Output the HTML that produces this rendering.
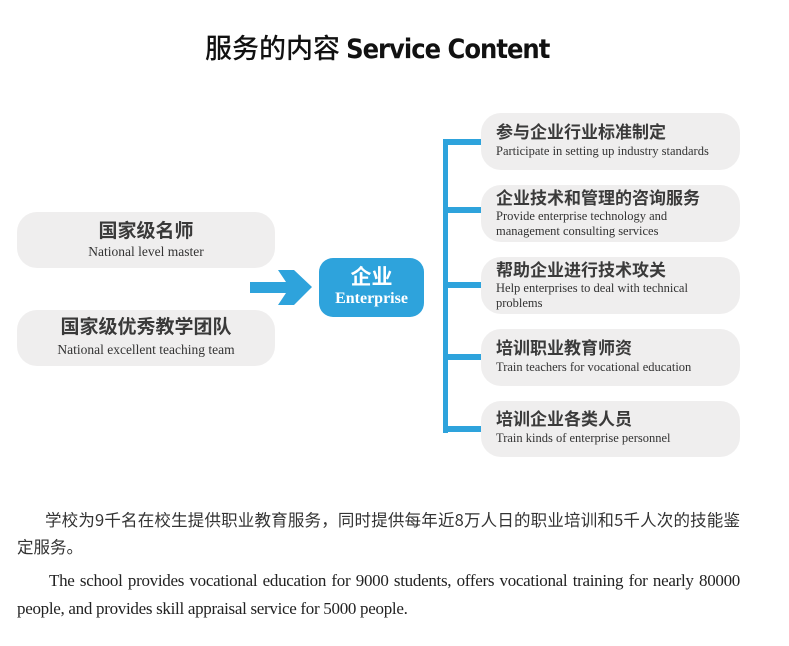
<!DOCTYPE html>
<html><head><meta charset="utf-8"><style>
body{margin:0;width:789px;height:646px;background:#fff;position:relative;overflow:hidden;font-family:"Liberation Sans","Noto Sans CJK SC",sans-serif;}
.a{position:absolute;}
.box{position:absolute;background:#efeeee;border-radius:20px;}
.zh{font-family:"Liberation Sans","Noto Sans CJK SC",sans-serif;font-weight:bold;color:#3a3a3a;font-size:17px;line-height:20px;white-space:nowrap;}
.en{font-family:"Liberation Serif","Noto Serif CJK SC",serif;color:#333;font-size:12.5px;line-height:15px;white-space:nowrap;}
.bl{position:absolute;background:#2ea3dc;}
.p{position:absolute;left:17px;width:723px;font-family:"Liberation Serif","Noto Serif CJK SC",serif;color:#222;text-align:justify;}
</style></head><body>
<div class="a" style="left:205px;top:27px;font-size:27px;color:#111;white-space:nowrap;"><span style="font-family:'Noto Sans CJK SC',sans-serif;font-weight:500;">服务的内容 </span><span style="font-family:'DejaVu Sans Condensed','DejaVu Sans',sans-serif;font-weight:bold;letter-spacing:-1px;">Service Content</span></div>

<div class="box" style="left:17px;top:212px;width:258px;height:56px;"></div>
<div class="a zh" style="left:17px;width:258px;top:222px;text-align:center;font-size:19px;">国家级名师</div>
<div class="a en" style="left:17px;width:258px;top:244px;text-align:center;font-size:13.5px;">National level master</div>
<div class="box" style="left:17px;top:310px;width:258px;height:56px;"></div>
<div class="a zh" style="left:17px;width:258px;top:318px;text-align:center;font-size:19px;">国家级优秀教学团队</div>
<div class="a en" style="left:17px;width:258px;top:342px;text-align:center;font-size:13.5px;">National excellent teaching team</div>

<svg class="a" style="left:248px;top:268px" width="68" height="40"><polygon points="2,14 38,14 30,2 46,2 64,19 46,37 30,37 38,25 2,25" fill="#2ea3dc"/></svg>

<div class="a" style="left:319px;top:258px;width:105px;height:59px;background:#2ea3dc;border-radius:14px;"></div>
<div class="a" style="left:319px;width:105px;top:264px;text-align:center;color:#fff;font-size:21px;font-weight:bold;font-family:'Noto Sans CJK SC',sans-serif;line-height:24px;">企业</div>
<div class="a" style="left:319px;width:105px;top:290px;text-align:center;color:#fff;font-size:16px;font-weight:bold;font-family:'Liberation Serif',serif;">Enterprise</div>

<div class="bl" style="left:443px;top:139px;width:5px;height:294px;"></div>
<div class="bl" style="left:443px;top:139px;width:38px;height:6px;"></div>
<div class="bl" style="left:443px;top:207px;width:38px;height:6px;"></div>
<div class="bl" style="left:443px;top:282px;width:38px;height:6px;"></div>
<div class="bl" style="left:443px;top:354px;width:38px;height:6px;"></div>
<div class="bl" style="left:443px;top:426px;width:38px;height:6px;"></div>

<div class="box" style="left:481px;top:113px;width:259px;height:57px;"></div>
<div class="a zh" style="left:496px;top:123px;">参与企业行业标准制定</div>
<div class="a en" style="left:496px;top:144px;">Participate in setting up industry standards</div>

<div class="box" style="left:481px;top:185px;width:259px;height:57px;"></div>
<div class="a zh" style="left:496px;top:189px;">企业技术和管理的咨询服务</div>
<div class="a en" style="left:496px;top:209px;">Provide enterprise technology and<br>management consulting services</div>

<div class="box" style="left:481px;top:257px;width:259px;height:57px;"></div>
<div class="a zh" style="left:496px;top:261px;">帮助企业进行技术攻关</div>
<div class="a en" style="left:496px;top:281px;">Help enterprises to deal with technical<br>problems</div>

<div class="box" style="left:481px;top:329px;width:259px;height:57px;"></div>
<div class="a zh" style="left:496px;top:339px;">培训职业教育师资</div>
<div class="a en" style="left:496px;top:360px;">Train teachers for vocational education</div>

<div class="box" style="left:481px;top:401px;width:259px;height:56px;"></div>
<div class="a zh" style="left:496px;top:410px;">培训企业各类人员</div>
<div class="a en" style="left:496px;top:431px;">Train kinds of enterprise personnel</div>

<div class="p" style="top:506px;font-size:16.5px;line-height:27px;text-indent:28px;letter-spacing:0px;font-family:'Noto Sans CJK SC',sans-serif;color:#333;">学校为9千名在校生提供职业教育服务，同时提供每年近8万人日的职业培训和5千人次的技能鉴定服务。</div>
<div class="p" style="top:567px;font-size:17px;line-height:28px;text-indent:32px;letter-spacing:-0.3px;">The school provides vocational education for 9000 students, offers vocational training for nearly 80000 people, and provides skill appraisal service for 5000 people.</div>
</body></html>
